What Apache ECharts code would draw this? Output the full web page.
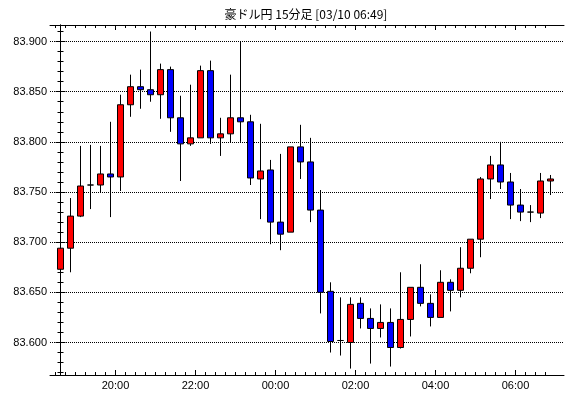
<!DOCTYPE html>
<html>
<head>
<meta charset="utf-8">
<script src="https://cdn.jsdelivr.net/npm/echarts@6/dist/echarts.min.js"></script>
<style>
html,body{margin:0;padding:0;background:#fff;}
#c{width:570px;height:398px;}
</style>
</head>
<body>
<div id="c"></div>
<script>
const titleText = '豪ドル円 15分足 [03/10 06:49]';
const times = ['18:30','18:45','19:00','19:15','19:30','19:45','20:00','20:15','20:30','20:45',
  '21:00','21:15','21:30','21:45','22:00','22:15','22:30','22:45','23:00','23:15',
  '23:30','23:45','00:00','00:15','00:30','00:45','01:00','01:15','01:30','01:45',
  '02:00','02:15','02:30','02:45','03:00','03:15','03:30','03:45','04:00','04:15',
  '04:30','04:45','05:00','05:15','05:30','05:45','06:00','06:15','06:30','06:45'];
const openV = [83.673,83.694,83.726,83.757,83.757,83.768,83.765,83.837,83.855,83.852,
  83.847,83.872,83.824,83.798,83.804,83.871,83.804,83.808,83.824,83.820,
  83.763,83.772,83.720,83.710,83.795,83.780,83.732,83.651,83.602,83.600,
  83.639,83.624,83.614,83.620,83.595,83.623,83.655,83.639,83.625,83.660,
  83.652,83.674,83.703,83.763,83.777,83.760,83.737,83.730,83.729,83.761];
const closeV = [83.694,83.726,83.756,83.757,83.768,83.765,83.837,83.855,83.852,83.847,
  83.872,83.824,83.798,83.804,83.871,83.804,83.808,83.824,83.820,83.764,
  83.771,83.720,83.708,83.795,83.780,83.732,83.650,83.601,83.602,83.638,
  83.624,83.614,83.620,83.595,83.623,83.655,83.639,83.625,83.660,83.652,
  83.674,83.703,83.763,83.777,83.760,83.737,83.730,83.730,83.761,83.763];
const lowV = [83.644,83.670,83.725,83.733,83.749,83.725,83.751,83.825,83.833,83.840,
  83.823,83.810,83.761,83.796,83.804,83.798,83.786,83.799,83.800,83.757,
  83.723,83.698,83.692,83.710,83.763,83.720,83.629,83.590,83.587,83.574,
  83.614,83.579,83.605,83.576,83.594,83.606,83.636,83.616,83.625,83.631,
  83.645,83.669,83.685,83.743,83.753,83.723,83.721,83.720,83.724,83.747];
const highV = [83.709,83.744,83.796,83.797,83.796,83.820,83.847,83.867,83.872,83.910,
  83.878,83.875,83.846,83.857,83.876,83.881,83.824,83.867,83.900,83.827,
  83.818,83.782,83.788,83.795,83.817,83.804,83.752,83.660,83.645,83.645,
  83.645,83.634,83.638,83.634,83.670,83.655,83.678,83.648,83.672,83.663,
  83.695,83.703,83.765,83.786,83.800,83.769,83.753,83.737,83.769,83.767];
const timeTickLabels = ['20:00','22:00','00:00','02:00','04:00','06:00'];
const priceTickLabels = [83.600,83.650,83.700,83.750,83.800,83.850,83.900];
const priceMinorTicks = [83.57,83.58,83.59,83.60,83.61,83.62,83.63,83.64,83.65,83.66,83.67,83.68,83.69,
  83.70,83.71,83.72,83.73,83.74,83.75,83.76,83.77,83.78,83.79,83.80,83.81,83.82,83.83,83.84,83.85,
  83.86,83.87,83.88,83.89,83.90,83.91];

const xMajor = timeTickLabels.map(t => times.indexOf(t) - 0.5);
const xMinor = times.map((t, i) => i - 0.5);
const candleData = times.map((t, i) => [i, openV[i], closeV[i], lowV[i], highV[i]]);

const X_MIN = -1.05, X_MAX = 50.35;
const Y_MIN = 83.5676, Y_MAX = 83.9165;
const lbl = {fontFamily: 'Liberation Sans', fontSize: 11, color: '#000'};

function xAx(pos, vals, len, withLabel, showLine) {
  return {
    type: 'value', position: pos, min: X_MIN, max: X_MAX,
    axisLine: {show: showLine, lineStyle: {color: '#000', width: 1}},
    axisTick: {show: true, inside: true, length: len, customValues: vals, lineStyle: {color: '#000', width: 1}},
    axisLabel: withLabel ? Object.assign({show: true, margin: 5, customValues: vals,
      formatter: v => timeTickLabels[xMajor.findIndex(m => Math.abs(m - v) < 1e-6)] || ''}, lbl) : {show: false},
    splitLine: {show: false}
  };
}
function yAx(pos, vals, len, withLabel, showLine, split) {
  return {
    type: 'value', position: pos, min: Y_MIN, max: Y_MAX, splitNumber: 7,
    axisLine: {show: showLine, lineStyle: {color: '#000', width: 1}},
    axisTick: {show: true, inside: true, length: len, customValues: vals, lineStyle: {color: '#000', width: 1}},
    axisLabel: withLabel ? Object.assign({show: true, margin: 3, customValues: vals,
      formatter: v => Number(v).toFixed(3)}, lbl) : {show: false},
    splitLine: {show: split, lineStyle: {color: '#000', width: 1, type: [1, 1]}}
  };
}

const chart = echarts.init(document.getElementById('c'), null, {renderer: 'canvas'});
chart.setOption({
  animation: false,
  backgroundColor: '#fff',
  textStyle: {fontFamily: 'Liberation Sans'},
  grid: {left: 50, right: 6, top: 25, bottom: 23, containLabel: false},
  graphic: [{
    type: 'text', x: 306, y: 14,
    style: {text: titleText, fill: '#000', font: '12px "Noto Sans CJK JP"', align: 'center', verticalAlign: 'middle'}
  }],
  xAxis: [
    xAx('bottom', xMajor, 5, true, true),
    xAx('bottom', xMinor, 3, false, false),
    xAx('top', xMajor, 5, false, true),
    xAx('top', xMinor, 3, false, false)
  ],
  yAxis: [
    yAx('left', priceTickLabels, 5, true, true, true),
    yAx('left', priceMinorTicks, 3, false, false, false),
    yAx('right', priceTickLabels, 5, false, true, false),
    yAx('right', priceMinorTicks, 3, false, false, false)
  ],
  series: [{
    type: 'candlestick',
    xAxisIndex: 0, yAxisIndex: 0,
    barWidth: 6,
    data: candleData,
    itemStyle: {color: '#ff0000', color0: '#0000ff', borderColor: '#000', borderColor0: '#000', borderColorDoji: '#000', borderWidth: 1}
  }]
});
</script>
</body>
</html>
